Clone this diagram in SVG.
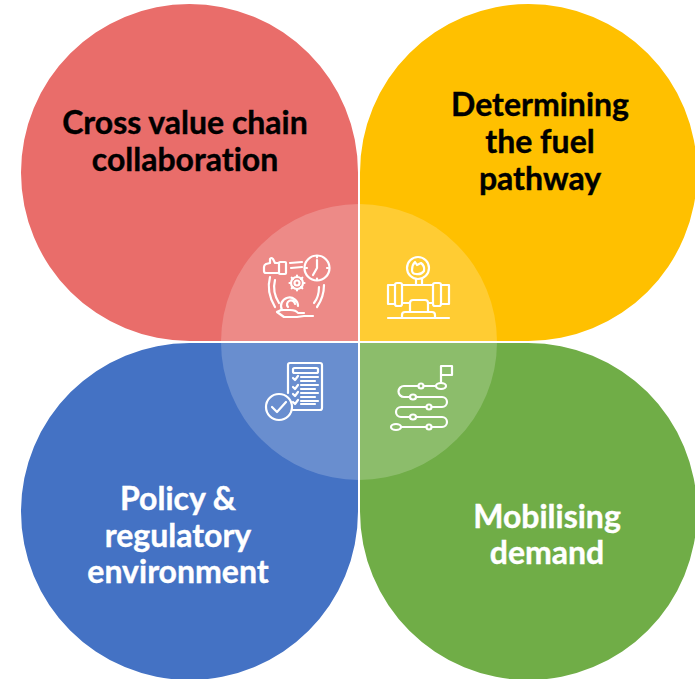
<svg xmlns="http://www.w3.org/2000/svg" width="695" height="679" viewBox="0 0 695 679">
<style>
.t{font-family:"Lato","Liberation Sans",sans-serif;font-weight:700;font-size:32px;text-anchor:middle;font-variant-ligatures:none;stroke-width:.4px}
.k{fill:#000;stroke:#000}.w{fill:#fff;stroke:#fff}
.i{fill:none;stroke:#fff;stroke-width:2.200;stroke-linecap:round;stroke-linejoin:round}
</style>
<rect width="695" height="679" fill="#fff"/>
<g id="node-collaboration"><path d="M358 341H190A168.500 168.500 0 1 1 358 172.500Z" fill="#e96d6a"/></g>
<g id="node-fuel"><path d="M360 341H528A168.500 168.500 0 1 0 360 172.500Z" fill="#ffc000"/></g>
<g id="node-policy"><path d="M358 343H190A168.500 168.500 0 1 0 358 511.500Z" fill="#4472c4"/></g>
<g id="node-demand"><path d="M360 343H528A168.500 168.500 0 1 1 360 511.500Z" fill="#70ad47"/></g>
<g id="node-centre"><circle cx="359" cy="342" r="138" fill="#fff" fill-opacity=".2"/></g>
<g id="label-collaboration" class="k"><text class="t" x="185" y="134">Cross value chain</text><text class="t" x="185" y="171">collaboration</text></g>
<g id="label-fuel" class="k"><text class="t" x="540" y="116">Determining</text><text class="t" x="540" y="153">the fuel</text><text class="t" x="540" y="190">pathway</text></g>
<g id="label-policy" class="w"><text class="t" x="178" y="510">Policy &amp;</text><text class="t" x="178" y="547">regulatory</text><text class="t" x="178" y="583">environment</text></g>
<g id="label-demand" class="w"><text class="t" x="547" y="528">Mobilising</text><text class="t" x="547" y="564">demand</text></g>
<g id="icon-collaboration" class="i">
<circle cx="317" cy="268" r="12.500"/><path d="M317 260V268L313 275M317 256.500V257.500M317 278.500V279.500M306 268H307M327 268H328"/>
<path d="M279 263H275L273 259Q271 257 270 259L270 263L266 264Q264 265 264 267V271Q264 273 266 273H279"/>
<rect x="279" y="262" width="7" height="12" rx="1"/>
<path d="M290 263L302 262M291 268L302 267"/>
<circle cx="297" cy="283" r="2.500"/>
<circle cx="297" cy="283" r="6"/>
<path d="M297 275.500V277M297 289V290.500M289.500 283H291M303 283H304.500M291.700 277.700L293 279M301 287L302.300 288.300M291.700 288.300L293 287M301 279L302.300 277.700"/>
<path d="M270 277Q266 292 275 307M275 280Q272 292 279 303M324 285Q324 297 317 307M319 287Q319 297 314 303"/>
<path d="M282 310A8.500 8.500 0 1 1 298 306M288 307A4 4 0 1 1 295 304"/>
<path d="M277 312L281 310H290Q296 310 298 313H304M277 312L284 317H297L304 316L313 316"/>
</g>
<g id="icon-fuel" class="i">
<circle cx="418" cy="268" r="11"/><path d="M412 270Q412 265 415 262L417 265L421 263Q425 266 424 271Q421 275 416 274Q412 274 412 270Z"/>
<path d="M416 279V285M422 279V285"/>
<path d="M402 285H433M402 303H410M428 303H433"/>
<rect x="395" y="283" width="7" height="23" rx="2"/><rect x="433" y="283" width="8" height="23" rx="2"/>
<path d="M395 285H388V304H395M441 285H449V304H441"/>
<path d="M410 312V303Q410 300 413 300H425Q428 300 428 303V312"/>
<path d="M402 318V315Q402 312 405 312H432Q435 312 435 315V318M388 318H449"/>
</g>
<g id="icon-policy" class="i">
<path d="M288 393V365Q288 363 290 363H320Q322 363 322 365V408Q322 410 320 410H293"/>
<rect x="293" y="368" width="25" height="5" rx="1.500"/>
<path d="M301 377H318M301 381H315M301 385H318M301 389H315M301 393H318M301 397H315M301 401H318M301 404H315M293 378L295 380L298 376M293 387L295 389L298 385M293 394L295 396L298 392M293 402L295 404L298 400"/>
<circle cx="279" cy="407" r="13"/><path d="M272 407L277 412L286 402"/>
</g>
<g id="icon-demand" class="i">
<path d="M441 383V366H452V375H441"/>
<ellipse cx="441" cy="386" rx="5" ry="3"/><circle cx="421" cy="386" r="2.500"/>
<path d="M436 386H424M418 386H404A5.500 5.500 0 0 0 404 397H410"/>
<ellipse cx="413" cy="397" rx="3" ry="2.500"/>
<path d="M416 397H442A5 5 0 0 1 442 407H432"/><circle cx="429" cy="407" r="2.500"/>
<path d="M426 407H401A5 5 0 0 0 401 417H410"/><ellipse cx="413" cy="417" rx="3" ry="2.500"/>
<path d="M416 417H442A5 5 0 0 1 442 427H432"/><circle cx="429" cy="427" r="2.500"/>
<path d="M426 427H401"/><ellipse cx="396" cy="427" rx="5" ry="3"/>
</g>
<g id="connectors"/>
</svg>
